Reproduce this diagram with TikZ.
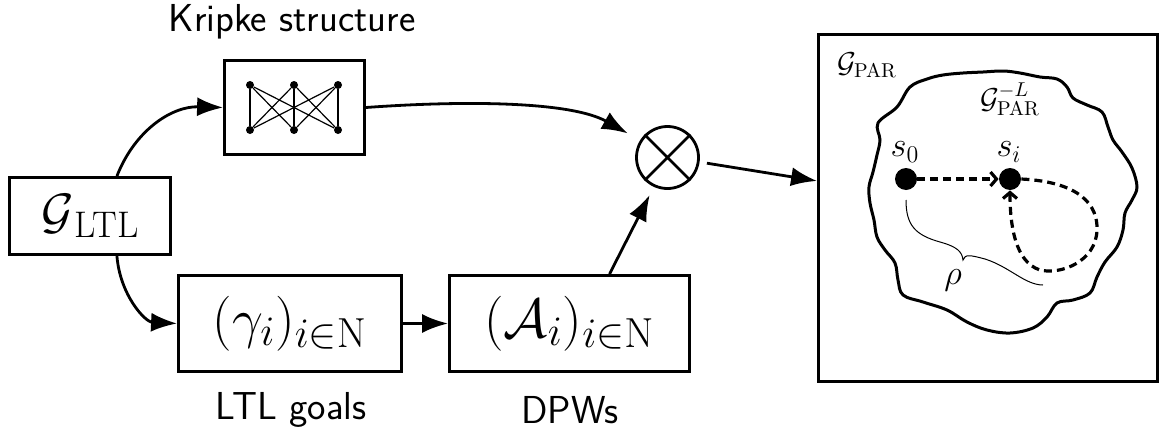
\RequirePackage{fix-cm}
\documentclass[tikz,border=0pt]{standalone}
\usetikzlibrary{arrows.meta,calc}
\newcommand{\subsz}[1]{\mbox{\fontsize{21}{23}\selectfont$#1$}}
\begin{document}
\begin{tikzpicture}[x=0.5pt,y=-0.5pt,
  box/.style={draw,line width=1.4pt,inner sep=0pt},
  conn/.style={line width=1.4pt,-{Latex[length=13pt,width=9.5pt]}},
  dasharr/.style={line width=1.6pt,dash pattern=on 4pt off 2.5pt,-{Straight Barb[length=3pt,width=7pt]}},
  kdot/.style={circle,fill,inner sep=0pt,minimum size=4pt},
  sdot/.style={circle,fill,inner sep=0pt,minimum size=11pt},
  lbl/.style={font=\sffamily\fontsize{19.5}{23}\selectfont},
  smallmath/.style={font=\fontsize{14.4}{17}\selectfont,inner sep=0pt},
  statelbl/.style={font=\fontsize{17.28}{20}\selectfont,inner sep=0pt}]
\useasboundingbox (0,0) rectangle (1163,429);

% main blocks
\node[box,minimum width=80.5pt,minimum height=38.5pt] (gltl) at (90,216)
  {{\fontsize{24.88}{28}\selectfont$\mathcal{G}$}\raisebox{-4.5pt}{\fontsize{18.5}{20}\selectfont LTL}};
\node[box,minimum width=70pt,minimum height=47pt] (kripke) at (294.5,107.5) {};
\node[box,minimum width=111.5pt,minimum height=48pt] (goals) at (290,323.5)
  {\fontsize{27.5}{30}\selectfont$(\gamma_{\subsz{i}})_{\subsz{i{\in}\mathrm{N}}}$};
\node[box,minimum width=120pt,minimum height=48pt] (dpw) at (569.5,323.5)
  {\fontsize{27.5}{30}\selectfont$(\mathcal{A}_{\subsz{i}})_{\subsz{i{\in}\mathrm{N}}}$};
\node[box,circle,minimum size=31pt] (prod) at (667.5,157.5) {};
\draw[line width=1.4pt] (prod.45) -- (prod.225) (prod.135) -- (prod.-45);
\node[box,minimum width=169.5pt,minimum height=173.5pt] (game) at (988,208) {};

% captions
\node[lbl] (klabel) at (292,22) {Kripke structure};
\node[lbl] (glabel) at (291,410) {LTL goals};
\node[lbl] (dlabel) at (570,410) {DPWs};

% Kripke structure: complete bipartite graph
\foreach \i/\x in {1/250,2/294,3/338}{
  \node[kdot] (t\i) at (\x,85) {};
  \node[kdot] (b\i) at (\x,130) {};
}
\foreach \i in {1,2,3}{\foreach \j in {1,2,3}{
  \draw[line width=0.6pt] (t\i) -- (b\j);
}}

% connectors
\draw[conn] (gltl.56) .. controls (135,130) and (172,106) .. (kripke.west);
\draw[conn] (gltl.-56) .. controls (120,295) and (145,322) .. (goals.west);
\draw[conn,shorten >=7pt] (kripke.east) .. controls (470,100) and (572,102) .. (prod.148);
\draw[conn] (goals.east) -- (dpw.west);
\draw[conn,shorten >=4.5pt] (dpw.51) -- (prod.-115);
\draw[conn,shorten <=3.7pt] (prod.-8) -- (game.171);

% parity game and its region
\node[smallmath] (gparlbl) at (867,65) {$\mathcal{G}_{\mathrm{PAR}}$};
\draw[line width=1.5pt] plot[smooth cycle,tension=0.6] coordinates {
  (878,123) (897,107) (910,87) (927,79) (943,75) (963,73) (983,72) (1003,71)
  (1020,73) (1040,77) (1057,79) (1067,87) (1073,98) (1087,105) (1102,112)
  (1108,127) (1113,140) (1122,152) (1132,168) (1137,187) (1132,200) (1125,213)
  (1123,230) (1117,247) (1105,262) (1097,277) (1090,293) (1073,300) (1057,303)
  (1047,317) (1033,328) (1010,333) (987,330) (967,322) (947,310) (923,302)
  (903,295) (898,280) (895,263) (885,250) (877,237) (874,220) (870,203)
  (869,187) (873,172) (877,155) (880,140)};
\node[smallmath] (gsublbl) at (1010,99) {$\mathcal{G}^{-L}_{\mathrm{PAR}}$};

\node[sdot] (s0) at (906,179) {};
\node[sdot] (si) at (1010,179) {};
\node[statelbl] (s0lbl) at (905,152) {$s_0$};
\node[statelbl] (silbl) at (1009,152) {$s_i$};

\draw[dasharr] (s0) -- (si);
\draw[dasharr] (si.east) .. controls (1080,182) and (1098,205) .. (1097,230)
  .. controls (1096,262) and (1060,275) .. (1040,270)
  .. controls (1015,262) and (1010,225) .. (si.south);

% run rho, marked with a brace-like curve
\coordinate (rhoa) at (906,200);
\coordinate (rhob) at (1043,285);
\draw[line width=0.5pt] (rhoa) .. controls (906,225) and (915,235) .. (940,242)
  .. controls (958,247) and (962,252) .. (963,260)
  .. controls (965,254) and (970,255) .. (985,259)
  .. controls (1010,267) and (1025,285) .. (rhob);
\node[statelbl] (rholbl) at (953,280) {$\rho$};
\end{tikzpicture}
\end{document}
